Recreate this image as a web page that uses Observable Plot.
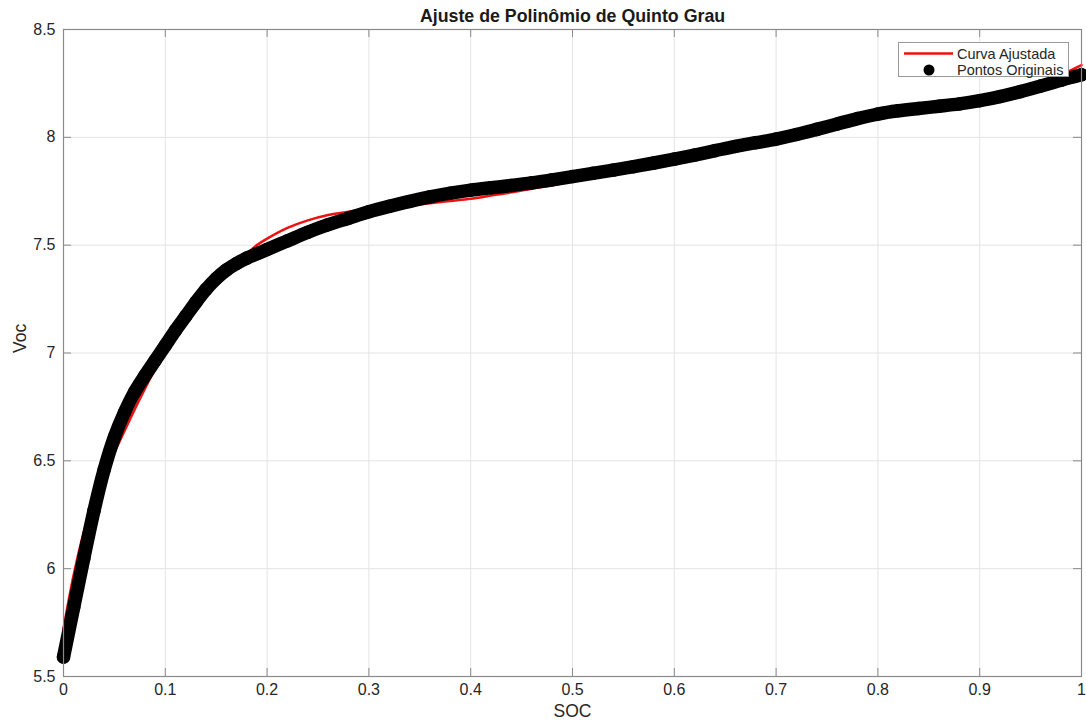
<!DOCTYPE html>
<html>
<head>
<meta charset="utf-8">
<script src="https://cdn.jsdelivr.net/npm/d3@7"></script>
<script src="https://cdn.jsdelivr.net/npm/@observablehq/plot@0.6"></script>
<style>
  html, body { margin: 0; padding: 0; background: #fff; }
  #wrap { position: relative; width: 1086px; height: 722px; }
  #legend { position: absolute; left: 898px; top: 42px; width: 171px; height: 35px; background: #fff;
            border: 1px solid #9a9a9a; box-sizing: border-box; }
  #legend svg { position: absolute; left: 0; top: 0; }
</style>
</head>
<body>
<div id="wrap"></div>
<script>
// Original points (SOC, Voc)
const socOrig = [0, 0.01, 0.02, 0.03, 0.04, 0.05, 0.06, 0.07, 0.08, 0.09, 0.10, 0.11, 0.12, 0.13, 0.14, 0.15, 0.16, 0.17, 0.18, 0.19, 0.20,
  0.22, 0.24, 0.26, 0.28, 0.30, 0.32, 0.34, 0.36, 0.38, 0.40, 0.42, 0.44, 0.46, 0.48, 0.50, 0.52, 0.54, 0.56, 0.58, 0.60,
  0.62, 0.64, 0.66, 0.68, 0.70, 0.72, 0.74, 0.76, 0.78, 0.80, 0.82, 0.84, 0.86, 0.88, 0.90, 0.92, 0.94, 0.96, 0.98, 1.00];
const vocOrig = [5.59, 5.82, 6.05, 6.27, 6.46, 6.61, 6.725, 6.82, 6.895, 6.965, 7.035, 7.105, 7.17, 7.235, 7.295, 7.345, 7.385, 7.415, 7.44, 7.46, 7.48,
  7.52, 7.56, 7.595, 7.625, 7.655, 7.68, 7.703, 7.724, 7.741, 7.755, 7.766, 7.777, 7.789, 7.803, 7.818, 7.833, 7.848, 7.864, 7.881, 7.899,
  7.918, 7.938, 7.958, 7.975, 7.992, 8.013, 8.037, 8.062, 8.087, 8.108, 8.123, 8.134, 8.144, 8.155, 8.17, 8.189, 8.212, 8.238, 8.265, 8.29];

// Fitted fifth-degree polynomial curve (SOC, Voc)
const socFit = [0, 0.01, 0.02, 0.03, 0.04, 0.05, 0.06, 0.07, 0.08, 0.09, 0.10, 0.11, 0.12, 0.13, 0.14, 0.15, 0.16, 0.17, 0.18, 0.19, 0.20,
  0.22, 0.24, 0.26, 0.28, 0.30, 0.32, 0.34, 0.36, 0.38, 0.40, 0.42, 0.44, 0.46, 0.48, 0.50, 0.55, 0.60, 0.65, 0.70, 0.75, 0.80, 0.85, 0.90, 0.95, 1.00];
const vocFit = [5.72, 5.97, 6.17, 6.32, 6.44, 6.54, 6.64, 6.74, 6.835, 6.925, 7.005, 7.08, 7.15, 7.21, 7.27, 7.32, 7.37, 7.42, 7.46, 7.50, 7.53,
  7.58, 7.615, 7.64, 7.655, 7.665, 7.673, 7.684, 7.695, 7.705, 7.715, 7.73, 7.745, 7.762, 7.778, 7.797, 7.85, 7.907, 7.963, 8.008, 8.05, 8.09, 8.125, 8.165, 8.23, 8.335];

const xTicks = [0, 0.1, 0.2, 0.3, 0.4, 0.5, 0.6, 0.7, 0.8, 0.9, 1];
const yTicks = [5.5, 6, 6.5, 7, 7.5, 8, 8.5];

const titleText = "Ajuste de Polinômio de Quinto Grau";
const xLabel = "SOC";
const yLabel = "Voc";
const legendLabels = ["Curva Ajustada", "Pontos Originais"];

const orig = socOrig.map((s, i) => ({soc: s, voc: vocOrig[i]}));
const fit = socFit.map((s, i) => ({soc: s, voc: vocFit[i]}));

const W = 1086, H = 722, mL = 63, mR = 5, mT = 29, mB = 46;
const frameW = W - mL - mR, frameH = H - mT - mB;
const axisColor = "#8a8a8a";
const font = "'Liberation Sans', Arial, Helvetica, sans-serif";

const chart = Plot.plot({
  width: W, height: H,
  marginLeft: mL, marginRight: mR, marginTop: mT, marginBottom: mB,
  x: {domain: [0, 1]},
  y: {domain: [5.5, 8.5]},
  style: {fontFamily: font, fontSize: "16px", color: "#262626", background: "#fff", overflow: "visible"},
  marks: [
    Plot.gridX(xTicks, {stroke: "#e4e4e4", strokeOpacity: 1}),
    Plot.gridY(yTicks, {stroke: "#e4e4e4", strokeOpacity: 1}),
    Plot.line(fit, {x: "soc", y: "voc", stroke: "#f01010", strokeWidth: 2.6, curve: "catmull-rom"}),
    Plot.line(orig, {x: "soc", y: "voc", stroke: "#000", strokeWidth: 13.5, strokeLinecap: "round", strokeLinejoin: "round", curve: "catmull-rom"}),
    Plot.dot(orig, {x: "soc", y: "voc", r: 6.75, fill: "#000"}),
    Plot.frame({stroke: axisColor, strokeWidth: 1.2}),
    Plot.tickX(xTicks, {x: d => d, insetTop: frameH - 8, stroke: axisColor}),
    Plot.tickX(xTicks, {x: d => d, insetBottom: frameH - 8, stroke: axisColor}),
    Plot.tickY(yTicks, {y: d => d, insetRight: frameW - 8, stroke: axisColor}),
    Plot.tickY(yTicks, {y: d => d, insetLeft: frameW - 8, stroke: axisColor}),
    Plot.axisX(xTicks, {tickSize: 0, tickPadding: 7, tickFormat: d => String(d), label: null, fontSize: 16}),
    Plot.axisY(yTicks, {tickSize: 0, tickPadding: 8, tickFormat: d => String(d), label: null, fontSize: 16}),
    Plot.text([titleText], {text: d => d, frameAnchor: "top", dy: -13, fontWeight: "bold", fontSize: 17.8, fill: "#1a1a1a", lineAnchor: "middle"}),
    Plot.text([xLabel], {text: d => d, frameAnchor: "bottom", dy: 35, fontSize: 17.5, fill: "#262626", lineAnchor: "middle"}),
    Plot.text([yLabel], {text: d => d, frameAnchor: "left", dx: -43, rotate: -90, fontSize: 17.5, fill: "#262626", lineAnchor: "middle"})
  ]
});

const wrap = document.getElementById("wrap");
wrap.appendChild(chart);

// Legend (drawn on top of the axes, as in the reference)
const legend = document.createElement("div");
legend.id = "legend";
const ns = "http://www.w3.org/2000/svg";
const lsvg = document.createElementNS(ns, "svg");
lsvg.setAttribute("width", 171); lsvg.setAttribute("height", 35);
const ln = document.createElementNS(ns, "line");
ln.setAttribute("x1", 5); ln.setAttribute("x2", 54); ln.setAttribute("y1", 10.5); ln.setAttribute("y2", 10.5);
ln.setAttribute("stroke", "#f01010"); ln.setAttribute("stroke-width", 2.6);
lsvg.appendChild(ln);
const c = document.createElementNS(ns, "circle");
c.setAttribute("cx", 30); c.setAttribute("cy", 27); c.setAttribute("r", 5.5); c.setAttribute("fill", "#000");
lsvg.appendChild(c);
legendLabels.forEach((t, i) => {
  const tx = document.createElementNS(ns, "text");
  tx.setAttribute("x", 58); tx.setAttribute("y", i === 0 ? 10.5 : 26.5);
  tx.setAttribute("dy", "0.35em");
  tx.setAttribute("font-family", font); tx.setAttribute("font-size", "14.5px"); tx.setAttribute("fill", "#262626");
  tx.textContent = t;
  lsvg.appendChild(tx);
});
legend.appendChild(lsvg);
wrap.appendChild(legend);
</script>
</body>
</html>
